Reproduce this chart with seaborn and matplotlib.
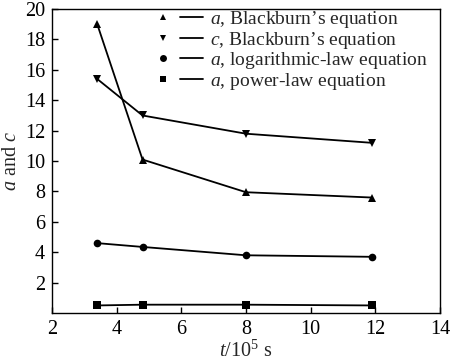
import matplotlib
matplotlib.use("Agg")
import matplotlib.pyplot as plt
import seaborn as sns
import pandas as pd
from matplotlib.lines import Line2D
from matplotlib.legend_handler import HandlerTuple

t = [3.4, 4.8, 8.0, 11.9]
a_blackburn = [19.0, 10.1, 7.95, 7.6]
c_blackburn = [15.4, 13.0, 11.8, 11.2]
a_log = [4.6, 4.35, 3.8, 3.7]
a_power = [0.5, 0.55, 0.55, 0.5]

labels = [r"$a$, Blackburn’s equation", r"$c$, Blackburn’s equation",
          r"$a$, logarithmic-law equation", r"$a$, power-law equation"]
markers = ["^", "v", "o", "s"]
series = [a_blackburn, c_blackburn, a_log, a_power]

sns.set_style("ticks")
plt.rcParams["font.family"] = ["Liberation Serif", "DejaVu Serif"]
plt.rcParams["mathtext.fontset"] = "custom"
plt.rcParams["mathtext.it"] = "Liberation Serif:italic"
plt.rcParams["mathtext.rm"] = "Liberation Serif"

fig = plt.figure(figsize=(4.5, 3.64), dpi=100)
ax = fig.add_axes([0.1156, 0.14, 0.862, 0.835])

rows = []
for lab, vals in zip(labels, series):
    for x, y in zip(t, vals):
        rows.append({"t": x, "v": y, "s": lab})
df = pd.DataFrame(rows)

sns.lineplot(data=df, x="t", y="v", hue="s", style="s", markers=dict(zip(labels, markers)),
             dashes=False, palette=["black"] * 4, ax=ax, markersize=5.5, linewidth=1.3,
             markeredgewidth=0, legend=False)

ax.set_xlim(2, 14)
ax.set_ylim(0, 20)
ax.set_xticks(range(2, 15, 2))
ax.set_yticks(range(2, 21, 2))
ax.tick_params(direction="in", length=4, width=1, labelsize=14.5, colors="black", pad=5)
for sp in ax.spines.values():
    sp.set_linewidth(1)
    sp.set_color("black")
ax.set_xlabel(r"$t$/10$^5$ s", fontsize=14.5, labelpad=1)
ax.set_ylabel(r"$a$ and $c$", fontsize=14.5, labelpad=3)

handles = []
for m in markers:
    h1 = Line2D([], [], marker=m, color="black", linestyle="none", markersize=5, markeredgewidth=0)
    h2 = Line2D([], [], color="black", linewidth=1.3)
    handles.append((h1, h2))
ax.legend(handles, labels, handler_map={tuple: HandlerTuple(ndivide=None, pad=0.3)},
          loc="upper right", frameon=False, fontsize=14, handlelength=2.6,
          handletextpad=0.4, labelspacing=-0.03, borderaxespad=0.0, bbox_to_anchor=(0.99, 1.025))

fig.savefig("out.png", dpi=100)
